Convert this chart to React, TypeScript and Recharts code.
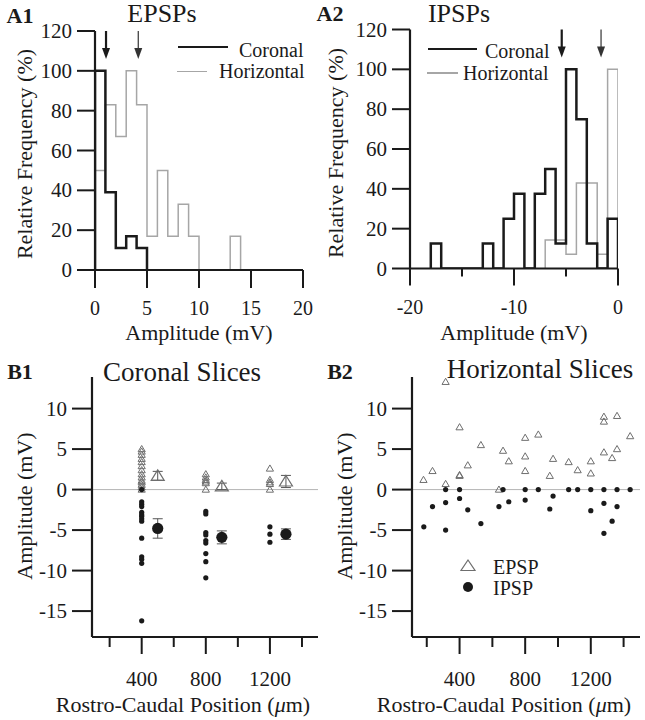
import React from 'react';
import {
  ComposedChart,
  ScatterChart,
  Line,
  Scatter,
  XAxis,
  YAxis,
  ReferenceLine,
  ErrorBar,
} from 'recharts';

const FONT = "'Liberation Serif', 'Times New Roman', serif";
const INK = '#1a1a1a';
const GRAY = '#a6a6a6';
const TRI = '#6e6e6e';

// ---------- A1: EPSP amplitude histograms (1 mV bins, relative frequency %) ----------
const a1CoronalStart = 0;
const a1Coronal = [100, 39, 11, 17, 11];
const a1HorizontalStart = 0;
const a1Horizontal = [50, 83, 67, 100, 83, 17, 50, 17, 33, 17, 0, 0, 0, 17];
const a1MeanCoronal = [1.06];
const a1MeanHorizontal = [4.16];
const a1XTicks = [0, 5, 10, 15, 20];
const a1XLabels = [0, 5, 10, 15, 20];
const freqTicks = [0, 20, 40, 60, 80, 100, 120];

// ---------- A2: IPSP amplitude histograms ----------
const a2CoronalStart = -18;
const a2Coronal = [12.5, 0, 0, 0, 0, 12.5, 0, 25, 37.5, 0, 37.5, 50, 12.5, 100, 75, 12.5, 0, 25];
const a2HorizontalStart = -7;
const a2Horizontal = [14.3, 14.3, 7.1, 42.9, 42.9, 7.1, 100];
const a2MeanCoronal = [-5.41];
const a2MeanHorizontal = [-1.63];
const a2XTicks = [-20, -15, -10, -5, 0];
const a2XLabels = [-20, -10, 0];

// ---------- B1: Coronal slices ----------
const b1Positions = [400, 800, 1200];
const b1Epsp = [
  [5.0, 4.7, 4.3, 3.8, 3.4, 2.9, 2.4, 1.9, 1.5, 1.1, 0.9, 0.6, 0.3, 0.0],
  [1.9, 1.5, 1.2, 1.0, 0.8, 0.0],
  [2.6, 1.2, 0.9, 0.7, 0.0],
];
const b1Ipsp = [
  [0, -1.5, -1.8, -2.1, -2.8, -3.1, -3.3, -3.6, -3.9, -6.0, -8.3, -8.6, -9.1, -16.2],
  [-2.7, -3.0, -5.3, -5.6, -6.3, -6.6, -7.9, -8.9, -10.9],
  [-4.6, -5.5, -6.5],
];
const b1MeanPositions = [500, 900, 1300];
const b1EpspMean = [1.7, 0.4, 1.0];
const b1EpspSem = [0.55, 0.4, 0.75];
const b1IpspMean = [-4.8, -5.9, -5.5];
const b1IpspSem = [1.2, 0.8, 0.65];

// ---------- B2: Horizontal slices ----------
const b2EpspX = [180, 235, 315, 315, 400, 400, 400, 450, 530, 640, 665, 700, 800, 800, 800, 880, 950, 970, 1065, 1120, 1200, 1200, 1280, 1280, 1280, 1330, 1360, 1360, 1440];
const b2EpspY = [1.2, 2.3, 13.3, 0.7, 7.7, 1.8, 1.7, 3.0, 5.5, 0.0, 4.8, 3.5, 6.4, 4.1, 2.3, 6.8, 1.7, 3.8, 3.4, 2.4, 3.5, 2.0, 9.0, 8.4, 4.6, 3.9, 9.1, 5.0, 6.6];
const b2IpspX = [182, 235, 315, 315, 315, 400, 400, 450, 530, 640, 665, 700, 800, 800, 880, 950, 970, 1065, 1120, 1200, 1200, 1280, 1280, 1280, 1330, 1360, 1360, 1440];
const b2IpspY = [-4.6, -2.1, -5.0, -1.6, 0, 0, -1.1, -2.5, -4.2, -2.1, 0, -1.5, 0, -1.3, 0, -2.4, -0.8, 0, 0, 0, -2.6, 0, -1.7, -5.4, -3.9, 0, -2.1, 0];

const bXTicks = [200, 400, 600, 800, 1000, 1200, 1400];
const bXLabels = [400, 800, 1200];
const bYTicks = [-15, -10, -5, 0, 5, 10];

// ---------- helpers ----------
const stepSeries = (start: number, vals: number[]) => [
  { x: start, y: 0 },
  ...vals.map((v, i) => ({ x: start + i, y: v })),
  { x: start + vals.length, y: 0 },
];
const arrowData = (xs: number[]) => xs.map((x) => ({ x, y: 120 }));
const columnPoints = (positions: number[], groups: number[][]) =>
  positions.flatMap((p, i) => groups[i].map((v) => ({ x: p, y: v })));
const pairPoints = (xs: number[], ys: number[]) => xs.map((x, i) => ({ x, y: ys[i] }));
const meanPoints = (xs: number[], m: number[], e: number[]) => xs.map((x, i) => ({ x, y: m[i], err: e[i] }));

const XTick = (props: any) => {
  const { x, y, payload, labels, majorLen, minorLen, labelDy, fs } = props;
  const v = payload.value;
  const major = labels.includes(v);
  return (
    <g>
      <line x1={x} x2={x} y1={y} y2={y + (major ? majorLen : minorLen)} stroke={INK} strokeWidth={2} />
      {major && (
        <text x={x} y={y + labelDy} textAnchor="middle" dominantBaseline="central" fill={INK} style={{ fontFamily: FONT, fontSize: fs }}>
          {String(v)}
        </text>
      )}
    </g>
  );
};

const YTick = (props: any) => {
  const { x, y, payload } = props;
  return (
    <text x={x} y={y} textAnchor="end" dominantBaseline="central" fill={INK} style={{ fontFamily: FONT, fontSize: 21 }}>
      {String(payload.value)}
    </text>
  );
};

const makeArrow = (color: string, w: number) => (p: any) => {
  const { cx, cy } = p;
  if (cx == null || cy == null) return <g />;
  return (
    <g>
      <line x1={cx} x2={cx} y1={cy - 2} y2={cy + 20} stroke={color} strokeWidth={w} />
      <polygon points={`${cx - 4},${cy + 17} ${cx + 4},${cy + 17} ${cx},${cy + 28}`} fill={color} />
    </g>
  );
};

const SmallTri = (p: any) => {
  const { cx, cy } = p;
  return <polygon points={`${cx},${cy - 3.6} ${cx + 3.6},${cy + 2.6} ${cx - 3.6},${cy + 2.6}`} fill="none" stroke={TRI} strokeWidth={1} />;
};
const SmallDot = (p: any) => <circle cx={p.cx} cy={p.cy} r={2.6} fill={INK} />;
const BigTri = (p: any) => {
  const { cx, cy } = p;
  return <polygon points={`${cx},${cy - 6} ${cx + 6.5},${cy + 4.5} ${cx - 6.5},${cy + 4.5}`} fill="none" stroke={TRI} strokeWidth={1.2} />;
};
const BigDot = (p: any) => <circle cx={p.cx} cy={p.cy} r={5.6} fill={INK} />;

const Txt = ({ x, y, size, children, bold = false, anchor = 'middle', rotate = false }: any) => (
  <div
    style={{
      position: 'absolute',
      left: x,
      top: y,
      transform: `translate(${anchor === 'start' ? '0' : '-50%'}, -50%)${rotate ? ' rotate(-90deg)' : ''}`,
      fontSize: size,
      lineHeight: 1,
      fontFamily: FONT,
      fontWeight: bold ? 700 : 400,
      whiteSpace: 'nowrap',
      color: INK,
    }}
  >
    {children}
  </div>
);

const LegendLine = ({ x1, x2, y, color, w }: any) => (
  <div style={{ position: 'absolute', left: x1, top: y - w / 2, width: x2 - x1, height: w, background: color }} />
);

const axisLine = { stroke: INK, strokeWidth: 2.2 };
const tickLine = { stroke: INK, strokeWidth: 2 };

const HistPanel = ({ left, top, width, height, margin, domain, xTicks, xLabels, majorLen, minorLen, coronal, horizontal, mc, mh }: any) => (
  <div style={{ position: 'absolute', left, top }}>
    <ComposedChart width={width} height={height} margin={margin}>
      <XAxis
        type="number"
        dataKey="x"
        domain={domain}
        allowDataOverflow
        ticks={xTicks}
        interval={0}
        height={50}
        tickSize={0}
        tickMargin={0}
        axisLine={axisLine}
        tickLine={false}
        tick={(p: any) => <XTick {...p} labels={xLabels} majorLen={majorLen} minorLen={minorLen} labelDy={38} fs={20} />}
      />
      <YAxis
        type="number"
        dataKey="y"
        domain={[0, 120]}
        allowDataOverflow
        ticks={freqTicks}
        interval={0}
        width={60}
        tickSize={18}
        tickMargin={5}
        axisLine={axisLine}
        tickLine={tickLine}
        tick={(p: any) => <YTick {...p} />}
      />
      <Line data={horizontal} dataKey="y" type="stepAfter" stroke={GRAY} strokeWidth={1.5} dot={false} isAnimationActive={false} />
      <Line data={coronal} dataKey="y" type="stepAfter" stroke={INK} strokeWidth={2.5} dot={false} isAnimationActive={false} />
      <Scatter data={mh} dataKey="y" shape={makeArrow('#333', 1.2)} isAnimationActive={false} />
      <Scatter data={mc} dataKey="y" shape={makeArrow(INK, 2.2)} isAnimationActive={false} />
    </ComposedChart>
  </div>
);

const SlicePanel = ({ left, top, domain, children }: any) => (
  <div style={{ position: 'absolute', left, top }}>
    <ScatterChart width={left === 0 ? 320 : 325} height={380} margin={{ top: 37, right: left === 0 ? 2 : 5, bottom: 33, left: 32 }}>
      <XAxis
        type="number"
        dataKey="x"
        domain={domain}
        allowDataOverflow
        ticks={bXTicks}
        interval={0}
        height={50}
        tickSize={0}
        tickMargin={0}
        axisLine={axisLine}
        tickLine={false}
        tick={(p: any) => <XTick {...p} labels={bXLabels} majorLen={17} minorLen={10} labelDy={42} fs={21} />}
      />
      <YAxis
        type="number"
        dataKey="y"
        domain={[-18.2, 13.9]}
        allowDataOverflow
        ticks={bYTicks}
        interval={0}
        width={60}
        tickSize={20}
        tickMargin={5}
        axisLine={axisLine}
        tickLine={tickLine}
        tick={(p: any) => <YTick {...p} />}
      />
      <ReferenceLine y={0} stroke="#b5b5b5" strokeWidth={1} />
      {children}
    </ScatterChart>
  </div>
);

export default function App() {
  const a1c = stepSeries(a1CoronalStart, a1Coronal);
  const a1h = stepSeries(a1HorizontalStart, a1Horizontal);
  const a2c = stepSeries(a2CoronalStart, a2Coronal);
  const a2h = stepSeries(a2HorizontalStart, a2Horizontal);

  const b1e = columnPoints(b1Positions, b1Epsp);
  const b1i = columnPoints(b1Positions, b1Ipsp);
  const b1me = meanPoints(b1MeanPositions, b1EpspMean, b1EpspSem);
  const b1mi = meanPoints(b1MeanPositions, b1IpspMean, b1IpspSem);
  const b2e = pairPoints(b2EpspX, b2EpspY);
  const b2i = pairPoints(b2IpspX, b2IpspY);

  return (
    <div style={{ position: 'absolute', left: 0, top: 0, width: 645, height: 720, background: '#fff', fontFamily: FONT }}>
      <HistPanel
        left={0}
        top={0}
        width={320}
        height={350}
        margin={{ top: 31, right: 17, bottom: 30, left: 35 }}
        domain={[0, 20]}
        xTicks={a1XTicks}
        xLabels={a1XLabels}
        majorLen={18}
        minorLen={18}
        coronal={a1c}
        horizontal={a1h}
        mc={arrowData(a1MeanCoronal)}
        mh={arrowData(a1MeanHorizontal)}
      />
      <HistPanel
        left={320}
        top={0}
        width={325}
        height={350}
        margin={{ top: 29.5, right: 27, bottom: 31.5, left: 30 }}
        domain={[-20, 0]}
        xTicks={a2XTicks}
        xLabels={a2XLabels}
        majorLen={17}
        minorLen={8}
        coronal={a2c}
        horizontal={a2h}
        mc={arrowData(a2MeanCoronal)}
        mh={arrowData(a2MeanHorizontal)}
      />
      <SlicePanel left={0} top={340} domain={[90, 1500]}>
        <Scatter data={b1e} dataKey="y" shape={SmallTri} isAnimationActive={false} />
        <Scatter data={b1i} dataKey="y" shape={SmallDot} isAnimationActive={false} />
        <Scatter data={b1me} dataKey="y" shape={BigTri} isAnimationActive={false}>
          <ErrorBar dataKey="err" direction="y" width={5} stroke="#555" strokeWidth={1} />
        </Scatter>
        <Scatter data={b1mi} dataKey="y" shape={BigDot} isAnimationActive={false}>
          <ErrorBar dataKey="err" direction="y" width={5} stroke="#555" strokeWidth={1} />
        </Scatter>
      </SlicePanel>
      <SlicePanel left={320} top={340} domain={[110, 1500]}>
        <Scatter data={b2e} dataKey="y" shape={SmallTri} isAnimationActive={false} />
        <Scatter data={b2i} dataKey="y" shape={SmallDot} isAnimationActive={false} />
      </SlicePanel>

      {/* A panel titles */}
      <Txt x={20} y={16} size={22} bold>A1</Txt>
      <Txt x={162} y={14} size={26}>EPSPs</Txt>
      <Txt x={330} y={14} size={22} bold>A2</Txt>
      <Txt x={459} y={14} size={26}>IPSPs</Txt>
      <Txt x={25} y={154} size={22} rotate>Relative Frequency (%)</Txt>
      <Txt x={336} y={153} size={22} rotate>Relative Frequency (%)</Txt>
      <Txt x={199} y={333} size={22}>Amplitude (mV)</Txt>
      <Txt x={514} y={333} size={22}>Amplitude (mV)</Txt>

      {/* A legends */}
      <LegendLine x1={178} x2={228} y={47} color={INK} w={2.5} />
      <Txt x={239} y={49.5} size={20} anchor="start">Coronal</Txt>
      <LegendLine x1={177} x2={207} y={71.5} color={GRAY} w={1.5} />
      <Txt x={219} y={71} size={20} anchor="start">Horizontal</Txt>
      <LegendLine x1={428} x2={477} y={49} color={INK} w={2.5} />
      <Txt x={485} y={51} size={20} anchor="start">Coronal</Txt>
      <LegendLine x1={427} x2={458} y={73} color={GRAY} w={1.5} />
      <Txt x={463} y={73} size={20} anchor="start">Horizontal</Txt>

      {/* B panel titles */}
      <Txt x={20} y={372} size={22} bold>B1</Txt>
      <Txt x={182} y={372} size={27}>Coronal Slices</Txt>
      <Txt x={340} y={372} size={22} bold>B2</Txt>
      <Txt x={540} y={369} size={27}>Horizontal Slices</Txt>
      <Txt x={25} y={506} size={22} rotate>Amplitude (mV)</Txt>
      <Txt x={345} y={506} size={22} rotate>Amplitude (mV)</Txt>
      <Txt x={183} y={705} size={22}>Rostro-Caudal Position (<i>μ</i>m)</Txt>
      <Txt x={504} y={705} size={22}>Rostro-Caudal Position (<i>μ</i>m)</Txt>

      {/* B2 legend */}
      <svg style={{ position: 'absolute', left: 458, top: 556 }} width={20} height={40}>
        <polygon points="10,4 17,14.5 3,14.5" fill="none" stroke={TRI} strokeWidth={1.2} />
        <circle cx={10} cy={31} r={5} fill={INK} />
      </svg>
      <Txt x={493} y={566.5} size={20} anchor="start">EPSP</Txt>
      <Txt x={493} y={588} size={20} anchor="start">IPSP</Txt>
    </div>
  );
}
